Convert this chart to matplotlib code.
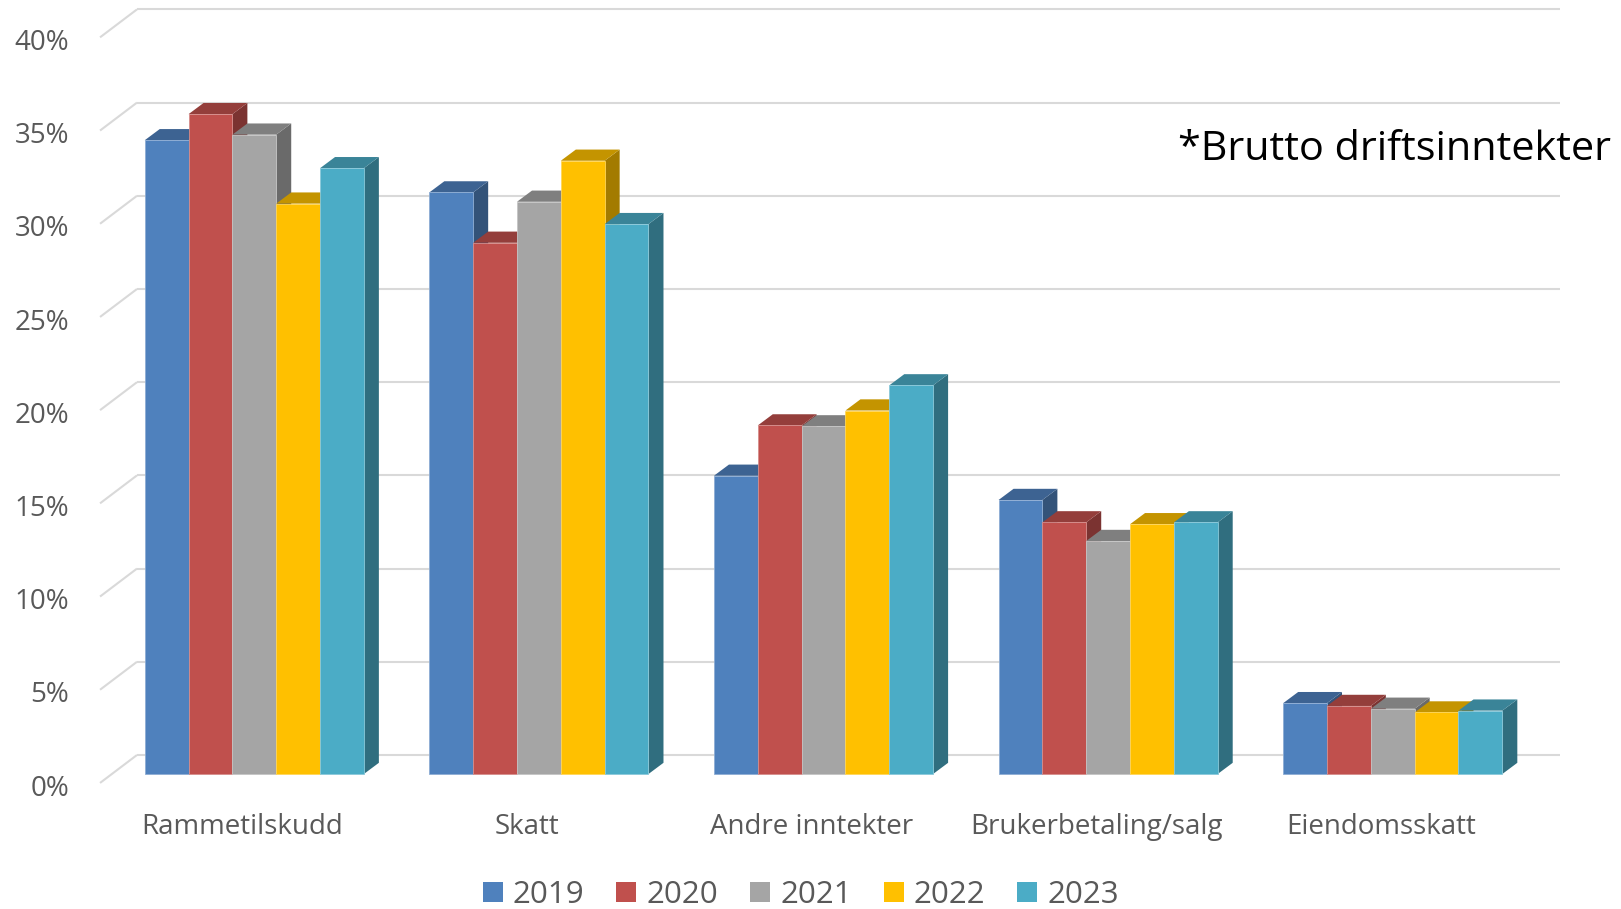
import matplotlib
matplotlib.use("Agg")
import matplotlib.pyplot as plt
from matplotlib.patches import Polygon, Patch
import matplotlib.colors as mcolors
import numpy as np

# ---------------- data ----------------
categories = ["Rammetilskudd", "Skatt", "Andre inntekter", "Brukerbetaling/salg", "Eiendomsskatt"]
years = ["2019", "2020", "2021", "2022", "2023"]
v2019 = [34.0, 31.2, 16.0, 14.7, 3.8]
v2020 = [35.4, 28.5, 18.7, 13.5, 3.65]
v2021 = [34.3, 30.7, 18.65, 12.5, 3.5]
v2022 = [30.6, 32.9, 19.5, 13.4, 3.3]
v2023 = [32.5, 29.5, 20.85, 13.5, 3.4]
series = [v2019, v2020, v2021, v2022, v2023]
colors = ["#4F81BD", "#C0504D", "#A5A5A5", "#FFC000", "#4BACC6"]
yticks = [0, 5, 10, 15, 20, 25, 30, 35, 40]
note = "*Brutto driftsinntekter"

plt.rcParams['font.family'] = ['Open Sans', 'DejaVu Sans']

fig = plt.figure(figsize=(16.21, 9.09), dpi=100)
ax = fig.add_axes([0, 0, 1, 1])
ax.set_xlim(-0.8935, 4.802)
ax.set_ylim(-7.2425, 41.524)
ax.axis('off')

BW = 0.154          # bar width (category units)
DX, DY = 0.0527, 0.6  # bar depth offset
WALL_DX, WALL_DY = 0.0878, 1.02
FL_DX, FL_DY = -0.042, -0.48
grid_c = "#D9D9D9"
txt_c = "#595959"

def shade(c, f):
    r, g, b = mcolors.to_rgb(c)
    return (r * f, g * f, b * f)

def lighten(c, f):
    r, g, b = mcolors.to_rgb(c)
    return (r + (1 - r) * f, g + (1 - g) * f, b + (1 - b) * f)

# gridlines (back wall + floor diagonals) and tick labels
for v in yticks:
    ax.plot([-0.5 + WALL_DX, 4.5 + WALL_DX], [v + WALL_DY] * 2, color=grid_c, lw=1.5,
            zorder=1, solid_capstyle='butt')
    ax.plot([-0.5 + FL_DX, -0.5 + WALL_DX], [v + FL_DY, v + WALL_DY], color=grid_c, lw=1.5,
            zorder=1, solid_capstyle='butt')
    ax.text(-0.651, v + FL_DY - 0.3, f"{v}%", ha='right', va='center', fontsize=20, color=txt_c)

x = np.arange(len(categories))
for j, (vals, c) in enumerate(zip(series, colors)):
    xs = x + (j - 2) * BW
    ax.bar(xs, vals, BW, color=c, edgecolor=lighten(c, 0.35), linewidth=0.6, zorder=4 + 3 * j)
    for xc, v in zip(xs, vals):
        L, R = xc - BW / 2, xc + BW / 2
        side = Polygon([(R, 0), (R + DX, DY), (R + DX, v + DY), (R, v)], closed=True,
                       facecolor=shade(c, 0.64), edgecolor='none', zorder=2 + 3 * j)
        top = Polygon([(L, v), (R, v), (R + DX, v + DY), (L + DX, v + DY)], closed=True,
                      facecolor=shade(c, 0.77), edgecolor='none', zorder=3 + 3 * j)
        ax.add_patch(side)
        ax.add_patch(top)

for i, cat in enumerate(categories):
    ax.text(i - 0.042, -2.86, cat, ha='center', va='center', fontsize=20, color=txt_c)

t = ax.text(3.247, 33.48, note, ha='left', va='center', fontsize=32, color='black')
# fit the note to its width in the reference (~434 px)
fig.canvas.draw()
w = t.get_window_extent(renderer=fig.canvas.get_renderer()).width
t.set_fontsize(32 * 434.0 / w)

handles = [Patch(facecolor=c, edgecolor='none') for c in colors]
ax.legend(handles, years, loc='center', bbox_to_anchor=(0.494, 0.0155), ncol=5, frameon=False,
          fontsize=22.5, handlelength=0.64, handleheight=0.64, handletextpad=0.32,
          columnspacing=1.02, labelcolor=txt_c, borderaxespad=0, borderpad=0)

fig.savefig("out.png", dpi=100)
